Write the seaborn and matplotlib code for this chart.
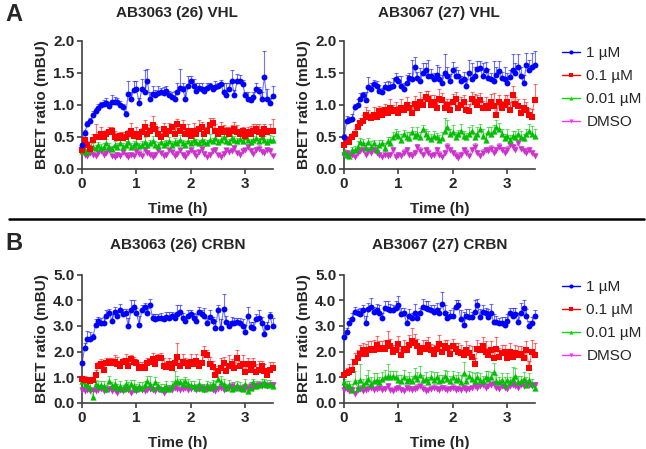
import numpy as np
import pandas as pd
import matplotlib
matplotlib.use("Agg")
import matplotlib.pyplot as plt
import seaborn as sns
from matplotlib.lines import Line2D

# readings every 3 min (0.05 h), 0 to 3.5 h
STEP_H = 0.05
DOSES = ["1 µM", "0.1 µM", "0.01 µM", "DMSO"]
COLORS = ["#0000ff", "#ff0000", "#00c000", "#cc33cc"]
LEGEND_COLORS = ["#0000ff", "#ff0000", "#00dd00", "#ff33ff"]
MARKERS = ["o", "s", "^", "v"]
TITLES = ["AB3063 (26) VHL", "AB3067 (27) VHL", "AB3063 (26) CRBN", "AB3067 (27) CRBN"]

# ---- AB3063 (26) VHL ----
VHL26_1UM = [0.38, 0.57, 0.70, 0.75, 0.85, 0.90, 0.95, 1.00, 1.02, 1.03,
             0.98, 1.05, 1.04, 1.05, 1.00, 0.97, 0.86, 1.17, 1.10, 1.23,
             1.25, 1.03, 1.25, 1.20, 1.37, 1.10, 1.17, 1.15, 1.19, 1.20,
             1.18, 1.22, 1.16, 1.13, 1.10, 1.20, 1.27, 1.25, 1.10, 1.30,
             1.37, 1.30, 1.22, 1.27, 1.25, 1.22, 1.27, 1.30, 1.25, 1.28,
             1.30, 1.33, 1.20, 1.15, 1.25, 1.37, 1.16, 1.37, 1.37, 1.33,
             1.15, 1.10, 1.08, 1.12, 1.25, 1.22, 1.10, 1.43, 1.10, 1.03,
             1.14]
VHL26_1UM_SEM = [0.03, 0.04, 0.05, 0.04, 0.05, 0.05, 0.06, 0.05, 0.06, 0.08,
                 0.06, 0.10, 0.08, 0.06, 0.07, 0.05, 0.04, 0.20, 0.10, 0.15,
                 0.12, 0.08, 0.15, 0.35, 0.20, 0.10, 0.12, 0.08, 0.10, 0.06,
                 0.10, 0.08, 0.06, 0.07, 0.12, 0.15, 0.30, 0.10, 0.20, 0.15,
                 0.08, 0.10, 0.12, 0.08, 0.10, 0.06, 0.08, 0.05, 0.06, 0.10,
                 0.05, 0.06, 0.15, 0.20, 0.10, 0.18, 0.08, 0.12, 0.10, 0.06,
                 0.05, 0.10, 0.04, 0.08, 0.10, 0.06, 0.10, 0.42, 0.15, 0.08,
                 0.15]
VHL26_01UM = [0.30, 0.45, 0.38, 0.32, 0.45, 0.50, 0.50, 0.55, 0.50, 0.55,
              0.58, 0.60, 0.50, 0.48, 0.52, 0.48, 0.50, 0.55, 0.60, 0.52,
              0.55, 0.50, 0.58, 0.65, 0.55, 0.60, 0.68, 0.62, 0.55, 0.50,
              0.62, 0.55, 0.60, 0.65, 0.55, 0.70, 0.60, 0.65, 0.55, 0.60,
              0.52, 0.60, 0.55, 0.62, 0.65, 0.55, 0.60, 0.68, 0.72, 0.60,
              0.55, 0.62, 0.58, 0.60, 0.55, 0.60, 0.62, 0.58, 0.55, 0.60,
              0.52, 0.58, 0.55, 0.60, 0.62, 0.58, 0.55, 0.62, 0.58, 0.60,
              0.60]
VHL26_01UM_SEM = [0.05, 0.08, 0.06, 0.05, 0.10, 0.20, 0.08, 0.10, 0.08, 0.06,
                  0.08, 0.06, 0.10, 0.08, 0.06, 0.10, 0.08, 0.06, 0.12, 0.08,
                  0.10, 0.08, 0.06, 0.12, 0.10, 0.08, 0.15, 0.08, 0.10, 0.06,
                  0.10, 0.08, 0.12, 0.06, 0.10, 0.08, 0.10, 0.12, 0.08, 0.10,
                  0.08, 0.12, 0.10, 0.15, 0.08, 0.10, 0.06, 0.12, 0.08, 0.10,
                  0.08, 0.12, 0.10, 0.06, 0.10, 0.08, 0.12, 0.10, 0.08, 0.06,
                  0.10, 0.08, 0.12, 0.10, 0.08, 0.12, 0.10, 0.08, 0.06, 0.10,
                  0.18]
VHL26_001UM = [0.28, 0.30, 0.27, 0.32, 0.35, 0.33, 0.38, 0.33, 0.35, 0.40,
               0.35, 0.32, 0.38, 0.35, 0.40, 0.35, 0.37, 0.42, 0.35, 0.38,
               0.40, 0.36, 0.38, 0.42, 0.37, 0.40, 0.44, 0.38, 0.36, 0.42,
               0.38, 0.40, 0.43, 0.38, 0.42, 0.40, 0.45, 0.40, 0.38, 0.44,
               0.40, 0.46, 0.42, 0.40, 0.45, 0.42, 0.40, 0.46, 0.43, 0.48,
               0.42, 0.45, 0.50, 0.44, 0.42, 0.48, 0.45, 0.43, 0.47, 0.44,
               0.50, 0.46, 0.42, 0.45, 0.48, 0.43, 0.50, 0.45, 0.42, 0.46,
               0.45]
VHL26_001UM_SEM = [0.03, 0.04, 0.05, 0.04, 0.06, 0.05, 0.04, 0.06, 0.05, 0.07,
                   0.05, 0.04, 0.06, 0.05, 0.07, 0.05, 0.06, 0.08, 0.05, 0.06,
                   0.07, 0.05, 0.06, 0.08, 0.05, 0.06, 0.07, 0.05, 0.06, 0.08,
                   0.05, 0.06, 0.07, 0.05, 0.06, 0.05, 0.08, 0.06, 0.05, 0.07,
                   0.06, 0.08, 0.05, 0.06, 0.07, 0.05, 0.06, 0.08, 0.06, 0.09,
                   0.05, 0.06, 0.10, 0.06, 0.05, 0.08, 0.06, 0.05, 0.07, 0.06,
                   0.08, 0.06, 0.05, 0.07, 0.08, 0.05, 0.07, 0.06, 0.05, 0.07,
                   0.06]
VHL26_DMSO = [0.25, 0.22, 0.20, 0.25, 0.22, 0.20, 0.25, 0.28, 0.22, 0.25,
              0.30, 0.20, 0.18, 0.22, 0.20, 0.26, 0.22, 0.18, 0.22, 0.20,
              0.28, 0.24, 0.20, 0.30, 0.25, 0.22, 0.19, 0.22, 0.30, 0.25,
              0.20, 0.22, 0.30, 0.26, 0.20, 0.24, 0.30, 0.22, 0.18, 0.25,
              0.30, 0.25, 0.20, 0.27, 0.32, 0.24, 0.18, 0.22, 0.28, 0.30,
              0.22, 0.18, 0.24, 0.30, 0.26, 0.28, 0.33, 0.25, 0.22, 0.28,
              0.30, 0.35, 0.28, 0.24, 0.30, 0.32, 0.27, 0.25, 0.30, 0.28,
              0.20]
VHL26_DMSO_SEM = [0.03, 0.04, 0.03, 0.04, 0.05, 0.03, 0.04, 0.05, 0.04, 0.03,
                  0.05, 0.04, 0.03, 0.04, 0.05, 0.04, 0.03, 0.04, 0.05, 0.03,
                  0.04, 0.05, 0.03, 0.04, 0.05, 0.04, 0.03, 0.05, 0.04, 0.03,
                  0.04, 0.05, 0.03, 0.04, 0.05, 0.04, 0.03, 0.04, 0.05, 0.03,
                  0.04, 0.05, 0.04, 0.03, 0.05, 0.04, 0.03, 0.04, 0.05, 0.04,
                  0.03, 0.05, 0.04, 0.03, 0.04, 0.05, 0.04, 0.03, 0.05, 0.04,
                  0.03, 0.04, 0.05, 0.03, 0.04, 0.05, 0.04, 0.03, 0.04, 0.05,
                  0.04]

# ---- AB3067 (27) VHL ----
VHL27_1UM = [0.50, 0.75, 0.76, 0.78, 0.97, 1.00, 1.10, 1.15, 1.08, 1.28,
             1.25, 1.33, 1.30, 1.22, 1.20, 1.28, 1.27, 1.28, 1.30, 1.40,
             1.38, 1.30, 1.25, 1.35, 1.42, 1.40, 1.60, 1.42, 1.38, 1.50,
             1.55, 1.45, 1.45, 1.40, 1.47, 1.40, 1.35, 1.50, 1.45, 1.38,
             1.55, 1.45, 1.45, 1.38, 1.40, 1.30, 1.50, 1.40, 1.45, 1.57,
             1.58, 1.45, 1.55, 1.42, 1.40, 1.38, 1.47, 1.53, 1.42, 1.40,
             1.35, 1.43, 1.55, 1.50, 1.60, 1.45, 1.35, 1.62, 1.55, 1.60,
             1.62]
VHL27_1UM_SEM = [0.05, 0.08, 0.06, 0.08, 0.05, 0.10, 0.08, 0.06, 0.12, 0.15,
                 0.10, 0.06, 0.08, 0.10, 0.06, 0.08, 0.10, 0.08, 0.12, 0.10,
                 0.08, 0.15, 0.10, 0.12, 0.08, 0.30, 0.15, 0.10, 0.20, 0.15,
                 0.10, 0.25, 0.12, 0.10, 0.15, 0.20, 0.12, 0.30, 0.15, 0.10,
                 0.12, 0.15, 0.10, 0.08, 0.12, 0.10, 0.20, 0.25, 0.15, 0.12,
                 0.10, 0.20, 0.12, 0.15, 0.10, 0.30, 0.12, 0.15, 0.10, 0.20,
                 0.15, 0.12, 0.25, 0.15, 0.20, 0.15, 0.12, 0.20, 0.15, 0.22,
                 0.22]
VHL27_01UM = [0.37, 0.46, 0.42, 0.50, 0.55, 0.65, 0.72, 0.75, 0.85, 0.82,
              0.80, 0.85, 0.82, 0.90, 0.85, 0.92, 0.88, 0.95, 0.90, 0.92,
              0.88, 0.95, 0.92, 1.00, 0.95, 0.88, 1.02, 0.95, 1.05, 1.00,
              1.12, 1.10, 1.00, 1.05, 0.95, 1.10, 1.08, 0.95, 1.00, 0.92,
              1.05, 1.10, 0.95, 1.00, 1.05, 0.92, 0.90, 1.10, 1.05, 1.00,
              1.08, 0.95, 0.98, 0.95, 1.05, 0.98, 0.85, 1.05, 0.95, 1.00,
              1.05, 0.92, 1.15, 1.02, 0.98, 0.88, 0.95, 0.92, 0.85, 0.82,
              1.08]
VHL27_01UM_SEM = [0.05, 0.06, 0.08, 0.06, 0.08, 0.10, 0.08, 0.10, 0.12, 0.10,
                  0.08, 0.12, 0.10, 0.08, 0.12, 0.10, 0.08, 0.15, 0.10, 0.12,
                  0.10, 0.15, 0.08, 0.12, 0.10, 0.15, 0.12, 0.10, 0.15, 0.12,
                  0.10, 0.12, 0.15, 0.10, 0.12, 0.15, 0.10, 0.12, 0.10, 0.15,
                  0.12, 0.10, 0.15, 0.12, 0.10, 0.15, 0.12, 0.10, 0.12, 0.15,
                  0.10, 0.12, 0.15, 0.10, 0.12, 0.20, 0.15, 0.10, 0.12, 0.15,
                  0.10, 0.12, 0.15, 0.10, 0.12, 0.10, 0.15, 0.12, 0.10, 0.12,
                  0.25]
VHL27_001UM = [0.27, 0.22, 0.20, 0.30, 0.30, 0.35, 0.42, 0.40, 0.33, 0.42,
               0.35, 0.40, 0.30, 0.38, 0.40, 0.33, 0.43, 0.40, 0.50, 0.55,
               0.52, 0.45, 0.55, 0.50, 0.48, 0.58, 0.52, 0.55, 0.50, 0.62,
               0.55, 0.50, 0.47, 0.52, 0.50, 0.45, 0.48, 0.60, 0.65, 0.55,
               0.58, 0.50, 0.55, 0.60, 0.52, 0.50, 0.55, 0.60, 0.50, 0.55,
               0.62, 0.52, 0.45, 0.58, 0.55, 0.60, 0.65, 0.62, 0.55, 0.48,
               0.52, 0.45, 0.52, 0.50, 0.55, 0.50, 0.48, 0.55, 0.60, 0.55,
               0.52]
VHL27_001UM_SEM = [0.04, 0.05, 0.06, 0.05, 0.06, 0.08, 0.06, 0.07, 0.08, 0.06,
                   0.08, 0.06, 0.07, 0.08, 0.06, 0.08, 0.07, 0.10, 0.08, 0.07,
                   0.08, 0.10, 0.06, 0.08, 0.10, 0.07, 0.08, 0.10, 0.08, 0.06,
                   0.08, 0.10, 0.07, 0.08, 0.06, 0.08, 0.10, 0.20, 0.12, 0.08,
                   0.10, 0.08, 0.06, 0.10, 0.08, 0.07, 0.10, 0.08, 0.06, 0.10,
                   0.08, 0.10, 0.12, 0.08, 0.10, 0.08, 0.12, 0.10, 0.08, 0.06,
                   0.10, 0.08, 0.07, 0.10, 0.08, 0.10, 0.07, 0.08, 0.10, 0.12,
                   0.10]
VHL27_DMSO = [0.22, 0.25, 0.20, 0.22, 0.18, 0.25, 0.28, 0.30, 0.22, 0.28,
              0.25, 0.30, 0.25, 0.22, 0.18, 0.22, 0.20, 0.22, 0.30, 0.18,
              0.22, 0.20, 0.25, 0.30, 0.22, 0.20, 0.25, 0.35, 0.28, 0.22,
              0.30, 0.25, 0.20, 0.22, 0.30, 0.22, 0.18, 0.25, 0.35, 0.30,
              0.25, 0.20, 0.17, 0.22, 0.30, 0.25, 0.20, 0.30, 0.35, 0.25,
              0.20, 0.25, 0.30, 0.28, 0.32, 0.25, 0.30, 0.35, 0.30, 0.25,
              0.30, 0.38, 0.35, 0.30, 0.40, 0.32, 0.28, 0.25, 0.30, 0.25,
              0.20]
VHL27_DMSO_SEM = [0.04, 0.05, 0.04, 0.06, 0.04, 0.05, 0.06, 0.04, 0.05, 0.06,
                  0.05, 0.04, 0.06, 0.05, 0.04, 0.06, 0.05, 0.04, 0.05, 0.06,
                  0.04, 0.05, 0.06, 0.04, 0.05, 0.06, 0.05, 0.04, 0.06, 0.05,
                  0.04, 0.06, 0.05, 0.04, 0.05, 0.06, 0.04, 0.05, 0.06, 0.05,
                  0.04, 0.06, 0.05, 0.04, 0.05, 0.06, 0.04, 0.05, 0.06, 0.04,
                  0.05, 0.06, 0.04, 0.05, 0.06, 0.05, 0.04, 0.06, 0.05, 0.04,
                  0.06, 0.05, 0.04, 0.05, 0.06, 0.04, 0.05, 0.06, 0.05, 0.04,
                  0.05]

# ---- AB3063 (26) CRBN ----
CRBN26_1UM = [1.55, 2.15, 2.50, 2.50, 2.55, 3.05, 3.20, 3.10, 3.10, 3.40,
              3.50, 3.20, 3.55, 3.40, 3.60, 3.45, 3.50, 3.00, 3.60, 3.75,
              3.50, 3.05, 3.60, 3.75, 3.50, 3.80, 3.30, 3.25, 3.30, 3.30,
              3.25, 3.35, 3.30, 3.40, 3.30, 3.45, 3.55, 3.30, 3.20, 3.40,
              3.45, 3.30, 3.20, 3.55, 3.45, 3.40, 3.10, 3.35, 3.20, 2.90,
              3.60, 2.90, 3.65, 3.15, 3.00, 3.10, 3.10, 3.15, 3.10, 3.00,
              2.75, 3.40, 2.95, 2.90, 3.25, 3.30, 3.10, 2.70, 2.95, 3.40,
              3.00]
CRBN26_1UM_SEM = [0.10, 0.20, 0.30, 0.25, 0.15, 0.20, 0.15, 0.20, 0.25, 0.20,
                  0.15, 0.25, 0.20, 0.15, 0.25, 0.20, 0.15, 0.30, 0.40, 0.25,
                  0.20, 0.35, 0.20, 0.15, 0.20, 0.25, 0.15, 0.20, 0.15, 0.20,
                  0.15, 0.20, 0.25, 0.15, 0.20, 0.35, 0.25, 0.20, 0.15, 0.20,
                  0.15, 0.20, 0.25, 0.20, 0.15, 0.30, 0.20, 0.25, 0.15, 0.30,
                  0.20, 0.35, 0.60, 0.25, 0.20, 0.25, 0.20, 0.15, 0.20, 0.25,
                  0.30, 0.35, 0.20, 0.25, 0.20, 0.30, 0.25, 0.35, 0.20, 0.15,
                  0.30]
CRBN26_01UM = [0.95, 0.90, 0.90, 0.85, 0.88, 1.10, 1.45, 1.50, 1.30, 1.55,
               1.60, 1.55, 1.60, 1.50, 1.45, 1.60, 1.65, 1.45, 1.70, 1.60,
               1.55, 1.35, 1.40, 1.35, 1.55, 1.60, 1.70, 1.50, 1.75, 1.75,
               1.45, 1.40, 1.50, 1.35, 1.55, 1.80, 1.45, 1.60, 1.55, 1.45,
               1.60, 1.50, 1.65, 1.45, 1.55, 1.95, 1.85, 1.50, 1.40, 1.10,
               1.25, 1.35, 1.55, 1.25, 1.45, 1.50, 1.35, 1.75, 1.45, 1.50,
               1.20, 1.50, 1.30, 1.50, 1.20, 1.30, 1.45, 1.25, 1.10, 1.30,
               1.35]
CRBN26_01UM_SEM = [0.10, 0.15, 0.10, 0.12, 0.15, 0.20, 0.15, 0.20, 0.25, 0.20,
                   0.15, 0.20, 0.25, 0.30, 0.20, 0.15, 0.25, 0.20, 0.15, 0.20,
                   0.15, 0.25, 0.20, 0.30, 0.20, 0.15, 0.25, 0.20, 0.15, 0.20,
                   0.30, 0.20, 0.25, 0.15, 0.20, 0.55, 0.25, 0.30, 0.20, 0.25,
                   0.30, 0.20, 0.25, 0.20, 0.30, 0.25, 0.20, 0.30, 0.25, 0.20,
                   0.20, 0.40, 0.25, 0.30, 0.40, 0.20, 0.25, 0.30, 0.20, 0.35,
                   0.30, 0.25, 0.20, 0.25, 0.30, 0.35, 0.20, 0.25, 0.20, 0.30,
                   0.25]
CRBN26_001UM = [0.85, 0.70, 0.75, 0.60, 0.25, 0.75, 0.65, 0.70, 0.65, 0.55,
                0.85, 0.65, 0.75, 0.60, 0.65, 0.55, 0.75, 0.60, 0.75, 0.65,
                0.55, 0.65, 0.60, 0.70, 0.85, 0.75, 0.60, 0.80, 0.65, 0.55,
                0.60, 0.65, 0.55, 0.65, 0.80, 0.85, 0.80, 0.75, 0.85, 0.75,
                0.70, 0.65, 0.60, 0.75, 0.60, 0.55, 0.70, 0.60, 0.75, 0.65,
                0.95, 0.80, 0.75, 0.60, 0.70, 0.55, 0.60, 0.70, 0.60, 0.55,
                0.75, 0.45, 0.60, 0.80, 0.65, 0.70, 0.75, 0.80, 0.70, 0.75,
                0.65]
CRBN26_001UM_SEM = [0.20, 0.15, 0.20, 0.25, 0.20, 0.15, 0.20, 0.15, 0.20, 0.15,
                    0.20, 0.15, 0.20, 0.15, 0.20, 0.15, 0.15, 0.20, 0.15, 0.25,
                    0.20, 0.15, 0.20, 0.15, 0.20, 0.30, 0.15, 0.20, 0.15, 0.20,
                    0.15, 0.20, 0.15, 0.20, 0.45, 0.20, 0.15, 0.20, 0.15, 0.20,
                    0.15, 0.20, 0.15, 0.20, 0.15, 0.20, 0.15, 0.20, 0.15, 0.20,
                    0.30, 0.25, 0.20, 0.15, 0.20, 0.15, 0.20, 0.15, 0.20, 0.15,
                    0.20, 0.15, 0.20, 0.15, 0.20, 0.15, 0.20, 0.15, 0.20, 0.15,
                    0.15]
CRBN26_DMSO = [0.50, 0.45, 0.50, 0.45, 0.50, 0.45, 0.50, 0.55, 0.45, 0.50,
               0.55, 0.45, 0.50, 0.40, 0.50, 0.45, 0.55, 0.50, 0.40, 0.50,
               0.45, 0.55, 0.50, 0.45, 0.50, 0.55, 0.50, 0.45, 0.55, 0.50,
               0.40, 0.50, 0.55, 0.50, 0.60, 0.55, 0.50, 0.55, 0.60, 0.50,
               0.55, 0.60, 0.50, 0.55, 0.60, 0.50, 0.55, 0.60, 0.50, 0.45,
               0.55, 0.60, 0.50, 0.55, 0.60, 0.65, 0.55, 0.60, 0.55, 0.60,
               0.55, 0.60, 0.65, 0.60, 0.65, 0.70, 0.65, 0.70, 0.65, 0.70,
               0.70]
CRBN26_DMSO_SEM = [0.10, 0.12, 0.10, 0.15, 0.10, 0.12, 0.10, 0.15, 0.12, 0.10,
                   0.12, 0.10, 0.15, 0.12, 0.10, 0.12, 0.15, 0.10, 0.12, 0.10,
                   0.15, 0.12, 0.10, 0.12, 0.15, 0.10, 0.12, 0.10, 0.15, 0.12,
                   0.10, 0.12, 0.15, 0.10, 0.12, 0.15, 0.10, 0.12, 0.10, 0.15,
                   0.12, 0.10, 0.12, 0.15, 0.10, 0.12, 0.10, 0.15, 0.12, 0.10,
                   0.12, 0.15, 0.10, 0.12, 0.10, 0.15, 0.12, 0.10, 0.12, 0.15,
                   0.10, 0.12, 0.15, 0.10, 0.12, 0.10, 0.15, 0.12, 0.10, 0.12,
                   0.10]

# ---- AB3067 (27) CRBN ----
CRBN27_1UM = [2.55, 2.75, 3.10, 3.25, 3.55, 3.50, 3.45, 3.60, 3.10, 3.65,
              3.75, 3.55, 3.60, 3.50, 3.30, 3.70, 3.65, 3.60, 3.60, 3.70,
              3.80, 3.45, 3.50, 3.10, 3.40, 3.30, 3.50, 3.30, 3.50, 3.75,
              3.70, 3.65, 3.60, 3.55, 3.60, 3.50, 3.85, 3.50, 3.30, 3.40,
              3.40, 3.75, 3.80, 3.25, 3.05, 3.40, 3.35, 3.35, 3.55, 3.80,
              3.35, 3.55, 3.50, 3.35, 3.50, 3.15, 3.15, 3.10, 3.10, 3.05,
              3.20, 3.50, 3.40, 3.45, 3.15, 3.50, 3.70, 3.40, 3.00, 3.10,
              3.40]
CRBN27_1UM_SEM = [0.10, 0.15, 0.20, 0.25, 0.20, 0.15, 0.25, 0.20, 0.30, 0.25,
                  0.35, 0.20, 0.25, 0.30, 0.20, 0.25, 0.30, 0.25, 0.20, 0.25,
                  0.35, 0.25, 0.20, 0.30, 0.25, 0.20, 0.35, 0.25, 0.20, 0.30,
                  0.25, 0.30, 0.20, 0.25, 0.30, 0.20, 0.45, 0.30, 0.25, 0.20,
                  0.30, 0.25, 0.20, 0.35, 0.50, 0.25, 0.30, 0.20, 0.45, 0.25,
                  0.30, 0.25, 0.20, 0.30, 0.35, 0.30, 0.25, 0.20, 0.25, 0.30,
                  0.25, 0.20, 0.30, 0.25, 0.35, 0.40, 0.30, 0.25, 0.20, 0.25,
                  0.20]
CRBN27_01UM = [1.10, 1.15, 1.20, 1.30, 1.60, 1.75, 1.90, 2.05, 1.90, 2.05,
               2.10, 2.05, 2.25, 2.10, 2.15, 2.10, 2.35, 2.20, 2.00, 2.05,
               2.30, 1.85, 2.10, 2.05, 2.25, 2.40, 2.35, 2.20, 2.00, 2.15,
               2.10, 2.25, 2.05, 1.90, 2.10, 2.30, 2.00, 2.20, 2.15, 1.90,
               2.20, 2.10, 2.00, 1.95, 1.85, 2.05, 1.95, 1.80, 1.50, 2.10,
               2.05, 2.20, 2.00, 1.85, 2.05, 1.75, 2.10, 1.80, 1.95, 2.00,
               1.75, 2.00, 1.80, 1.95, 1.85, 1.90, 1.75, 2.05, 1.35, 2.00,
               1.85]
CRBN27_01UM_SEM = [0.15, 0.20, 0.30, 0.40, 0.35, 0.30, 0.35, 0.30, 0.40, 0.35,
                   0.30, 0.40, 0.35, 0.30, 0.25, 0.35, 0.45, 0.30, 0.25, 0.35,
                   0.30, 0.25, 0.35, 0.30, 0.40, 0.50, 0.35, 0.30, 0.25, 0.30,
                   0.35, 0.30, 0.25, 0.35, 0.30, 0.35, 0.30, 0.25, 0.30, 0.35,
                   0.30, 0.25, 0.35, 0.30, 0.25, 0.35, 0.30, 0.40, 0.25, 0.35,
                   0.30, 0.35, 0.40, 0.30, 0.35, 0.30, 0.45, 0.35, 0.30, 0.25,
                   0.30, 0.35, 0.25, 0.30, 0.35, 0.30, 0.40, 0.35, 0.30, 0.45,
                   0.50]
CRBN27_001UM = [0.80, 0.65, 0.70, 0.50, 0.85, 0.60, 0.90, 0.70, 0.80, 0.95,
                0.75, 0.85, 0.90, 0.80, 0.95, 1.00, 1.05, 1.00, 1.05, 1.00,
                0.90, 0.85, 1.00, 0.85, 0.95, 0.85, 1.05, 0.95, 1.10, 0.90,
                0.95, 0.80, 1.00, 0.90, 1.00, 0.85, 0.90, 1.05, 0.95, 0.85,
                1.00, 0.90, 0.95, 0.80, 1.15, 0.85, 1.05, 0.95, 0.85, 1.00,
                0.90, 0.85, 1.00, 0.95, 1.00, 1.20, 0.85, 0.80, 0.90, 0.70,
                0.90, 0.80, 0.95, 1.05, 0.80, 0.85, 0.95, 0.70, 0.90, 0.75,
                0.60]
CRBN27_001UM_SEM = [0.15, 0.20, 0.15, 0.25, 0.40, 0.30, 0.60, 0.25, 0.30, 0.35,
                    0.25, 0.30, 0.25, 0.20, 0.25, 0.30, 0.45, 0.25, 0.20, 0.25,
                    0.20, 0.25, 0.30, 0.20, 0.25, 0.20, 0.30, 0.25, 0.35, 0.20,
                    0.25, 0.20, 0.25, 0.30, 0.20, 0.25, 0.20, 0.25, 0.30, 0.20,
                    0.25, 0.20, 0.25, 0.30, 0.45, 0.25, 0.20, 0.25, 0.30, 0.20,
                    0.25, 0.20, 0.25, 0.30, 0.20, 0.35, 0.25, 0.20, 0.25, 0.30,
                    0.25, 0.20, 0.45, 0.30, 0.25, 0.20, 0.25, 0.30, 0.25, 0.20,
                    0.20]
CRBN27_DMSO = [0.50, 0.55, 0.45, 0.50, 0.35, 0.50, 0.55, 0.45, 0.50, 0.55,
               0.60, 0.50, 0.55, 0.60, 0.50, 0.55, 0.65, 0.50, 0.45, 0.55,
               0.60, 0.50, 0.45, 0.60, 0.55, 0.50, 0.55, 0.60, 0.65, 0.55,
               0.45, 0.50, 0.55, 0.60, 0.55, 0.50, 0.60, 0.55, 0.50, 0.55,
               0.60, 0.50, 0.55, 0.50, 0.60, 0.50, 0.55, 0.60, 0.65, 0.60,
               0.65, 0.70, 0.60, 0.65, 0.70, 0.75, 0.60, 0.55, 0.65, 0.60,
               0.55, 0.65, 0.70, 0.65, 0.60, 0.70, 0.65, 0.75, 0.70, 0.65,
               0.70]
CRBN27_DMSO_SEM = [0.12, 0.10, 0.15, 0.12, 0.10, 0.12, 0.15, 0.10, 0.12, 0.10,
                   0.15, 0.12, 0.10, 0.12, 0.15, 0.10, 0.12, 0.10, 0.15, 0.12,
                   0.10, 0.12, 0.15, 0.10, 0.12, 0.15, 0.10, 0.12, 0.10, 0.15,
                   0.12, 0.10, 0.12, 0.15, 0.10, 0.12, 0.10, 0.15, 0.12, 0.10,
                   0.12, 0.15, 0.10, 0.12, 0.10, 0.15, 0.12, 0.10, 0.12, 0.15,
                   0.10, 0.12, 0.15, 0.10, 0.12, 0.10, 0.15, 0.12, 0.10, 0.12,
                   0.15, 0.10, 0.12, 0.15, 0.10, 0.12, 0.10, 0.15, 0.12, 0.10,
                   0.12]

PANELS = [
    ([VHL26_1UM, VHL26_01UM, VHL26_001UM, VHL26_DMSO],
     [VHL26_1UM_SEM, VHL26_01UM_SEM, VHL26_001UM_SEM, VHL26_DMSO_SEM]),
    ([VHL27_1UM, VHL27_01UM, VHL27_001UM, VHL27_DMSO],
     [VHL27_1UM_SEM, VHL27_01UM_SEM, VHL27_001UM_SEM, VHL27_DMSO_SEM]),
    ([CRBN26_1UM, CRBN26_01UM, CRBN26_001UM, CRBN26_DMSO],
     [CRBN26_1UM_SEM, CRBN26_01UM_SEM, CRBN26_001UM_SEM, CRBN26_DMSO_SEM]),
    ([CRBN27_1UM, CRBN27_01UM, CRBN27_001UM, CRBN27_DMSO],
     [CRBN27_1UM_SEM, CRBN27_01UM_SEM, CRBN27_001UM_SEM, CRBN27_DMSO_SEM]),
]

W, H = 646, 449
AX_GRAY = "#404040"


def panel_frame(means, sems):
    frames = []
    for dose, m, s in zip(DOSES, means, sems):
        t = np.round(np.arange(len(m)) * STEP_H, 2)
        frames.append(pd.DataFrame({"time": t, "ratio": m, "sem": s, "dose": dose}))
    return pd.concat(frames, ignore_index=True)


def draw_panel(ax, means, sems, title, ymax, ystep, title_pad):
    df = panel_frame(means, sems)
    # DMSO drawn first so the 1 µM series stays on top
    for dose, color, marker in list(zip(DOSES, COLORS, MARKERS))[::-1]:
        sub = df[df["dose"] == dose]
        sns.lineplot(data=sub, x="time", y="ratio", color=color, lw=0.8, alpha=0.55,
                     errorbar=None, legend=False, ax=ax)
        ax.errorbar(sub["time"], sub["ratio"], yerr=[np.zeros(len(sub)), sub["sem"]],
                    fmt="none", ecolor=color, alpha=0.55, elinewidth=0.8,
                    capsize=1.3, capthick=0.8, clip_on=False)
        sns.scatterplot(data=sub, x="time", y="ratio", color=color, marker=marker,
                        s=18 if marker == "o" else 20, linewidth=0, legend=False,
                        ax=ax, zorder=4, clip_on=False)

    ax.set_xlim(0, 3.5)
    ax.set_ylim(0, ymax)
    ax.set_xticks([0, 1, 2, 3])
    ax.set_yticks(np.arange(0, ymax + 1e-9, ystep))
    ax.yaxis.set_major_formatter(matplotlib.ticker.FormatStrFormatter("%.1f"))
    sns.despine(ax=ax)
    for side in ["left", "bottom"]:
        ax.spines[side].set_linewidth(1.2)
        ax.spines[side].set_color(AX_GRAY)
    ax.tick_params(direction="out", length=3.5, width=1.2, color=AX_GRAY,
                   labelsize=11, pad=2)
    for lab in ax.get_xticklabels() + ax.get_yticklabels():
        lab.set_fontweight("bold")
    ax.set_xlabel("Time (h)", fontsize=11, fontweight="bold", labelpad=8)
    ax.set_ylabel("BRET ratio (mBU)", fontsize=11, fontweight="bold", labelpad=3)
    ax.set_title(title, fontsize=11, fontweight="bold", pad=title_pad)


sns.set_style("ticks")
plt.rcParams["font.family"] = ["Liberation Sans", "DejaVu Sans"]

fig = plt.figure(figsize=(W / 100, H / 100), dpi=100)

lefts = [82, 344]
tops = [41, 274.5]
bottoms = [169, 403]
axes = []
for row in range(2):
    for col in range(2):
        l = lefts[col] / W
        b = 1 - bottoms[row] / H
        h = (bottoms[row] - tops[row]) / H
        axes.append(fig.add_axes([l, b, 190.5 / W, h]))

for i, ax in enumerate(axes):
    means, sems = PANELS[i]
    if i < 2:
        draw_panel(ax, means, sems, TITLES[i], 2.0, 0.5, 17)
    else:
        draw_panel(ax, means, sems, TITLES[i], 5.0, 1.0, 18)

handles = [Line2D([0], [0], color=c, marker=m, markersize=3, lw=1.0, markeredgewidth=0)
           for c, m in zip(LEGEND_COLORS, MARKERS)]
for top_px in [46, 280]:
    fig.legend(handles, DOSES, loc="upper left", bbox_to_anchor=(562 / W, 1 - top_px / H),
               frameon=False, fontsize=11, handlelength=1.2, handletextpad=0.4,
               labelspacing=0.6, borderpad=0, borderaxespad=0)

fig.text(5 / W, 1 - 3 / H, "A", fontsize=17, fontweight="bold", va="top", ha="left")
fig.text(5 / W, 1 - 232 / H, "B", fontsize=17, fontweight="bold", va="top", ha="left")
fig.add_artist(Line2D([9 / W, 644 / W], [1 - 219 / H, 1 - 219 / H], color="black", lw=1.8))

fig.savefig("out.png", dpi=100)
